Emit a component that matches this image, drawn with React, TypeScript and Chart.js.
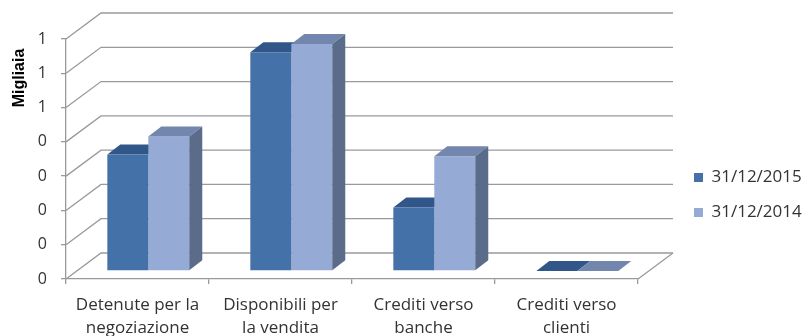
import React, { useEffect, useRef } from "react";
import { Chart, registerables } from "chart.js";

Chart.register(...registerables);

const categories: string[][] = [
  ["Detenute per la", "negoziazione"],
  ["Disponibili per", "la vendita"],
  ["Crediti verso", "banche"],
  ["Crediti verso", "clienti"],
];
const seriesNames = ["31/12/2015", "31/12/2014"];
const values2015 = [0.34, 0.638, 0.185, 0];
const values2014 = [0.392, 0.662, 0.335, 0];
const yTickLabels = ["0", "0", "0", "0", "0", "1", "1", "1"];
const yAxisTitle = "Migliaia";

const FRONT = ["#4571A9", "#95AAD5"];
const TOP = ["#30568A", "#7386AD"];
const SIDE = "#5B6B8A";
const GRID = "#9a9a9a";
const TEXT = "#333333";

// oblique projection offsets
const WALL = { dx: 35, dy: -26 };
const BAR_PLANE = { dx: 10.8, dy: -8 };
const BAR_DEPTH = { dx: 13, dy: -10 };

function drawTops(ctx: any, meta: any, idx: number) {
  meta.data.forEach((bar: any) => {
    const { x, y, base, width } = bar.getProps(["x", "y", "base", "width"], true);
    const l = x - width / 2;
    const r = x + width / 2;
    ctx.fillStyle = TOP[idx];
    ctx.beginPath();
    ctx.moveTo(l, y);
    ctx.lineTo(r, y);
    ctx.lineTo(r + BAR_DEPTH.dx, y + BAR_DEPTH.dy);
    ctx.lineTo(l + BAR_DEPTH.dx, y + BAR_DEPTH.dy);
    ctx.closePath();
    ctx.fill();
    if (idx === 1 && base - y > 0.5) {
      ctx.fillStyle = SIDE;
      ctx.beginPath();
      ctx.moveTo(r, y);
      ctx.lineTo(r + BAR_DEPTH.dx, y + BAR_DEPTH.dy);
      ctx.lineTo(r + BAR_DEPTH.dx, base + BAR_DEPTH.dy);
      ctx.lineTo(r, base);
      ctx.closePath();
      ctx.fill();
    }
  });
}

const threeD = {
  id: "threeD",
  afterLayout(chart: any) {
    const lg = chart.legend;
    if (lg) {
      const pad = 18;
      lg.left = 694 - pad;
      lg.top = 169 - pad;
      lg.right = 806;
      lg.bottom = 336;
      lg.width = lg.right - lg.left;
      lg.height = lg.bottom - lg.top;
    }
  },
  beforeDatasetsDraw(chart: any) {
    const { ctx, chartArea, scales } = chart;
    const { left, right } = chartArea;
    const y = scales.y;
    ctx.save();
    ctx.strokeStyle = GRID;
    ctx.lineWidth = 1.3;
    y.ticks.forEach((t: any) => {
      const py = y.getPixelForValue(t.value);
      ctx.beginPath();
      ctx.moveTo(left, py);
      ctx.lineTo(left + WALL.dx, py + WALL.dy);
      ctx.lineTo(right + WALL.dx, py + WALL.dy);
      ctx.stroke();
    });
    const y0 = y.getPixelForValue(0);
    ctx.beginPath();
    ctx.moveTo(right, y0);
    ctx.lineTo(right + WALL.dx, y0 + WALL.dy);
    ctx.stroke();
    ctx.restore();
    ctx.save();
    ctx.translate(BAR_PLANE.dx, BAR_PLANE.dy);
  },
  beforeDatasetDraw(chart: any, args: any) {
    // the 2014 series is drawn first; put the 2015 top faces underneath it
    if (args.index === 1) drawTops(chart.ctx, chart.getDatasetMeta(0), 0);
  },
  afterDatasetDraw(chart: any, args: any) {
    if (args.index === 1) drawTops(chart.ctx, args.meta, 1);
  },
  afterDatasetsDraw(chart: any) {
    chart.ctx.restore();
  },
  afterDraw(chart: any) {
    const { ctx, chartArea } = chart;
    ctx.save();
    ctx.translate(20, chartArea.top + 39);
    ctx.rotate(-Math.PI / 2);
    ctx.font = "bold 16px 'Liberation Sans'";
    ctx.fillStyle = "#000";
    ctx.textAlign = "center";
    ctx.textBaseline = "middle";
    ctx.fillText(yAxisTitle, 0, 0);
    ctx.restore();
  },
};

export default function App() {
  const ref = useRef<HTMLCanvasElement | null>(null);
  useEffect(() => {
    if (!ref.current) return;
    const chart = new Chart(ref.current, {
      type: "bar",
      data: {
        labels: categories,
        datasets: [
          { label: seriesNames[0], data: values2015, backgroundColor: FRONT[0], clip: false as any },
          { label: seriesNames[1], data: values2014, backgroundColor: FRONT[1], clip: false as any },
        ],
      },
      options: {
        responsive: false,
        maintainAspectRatio: false,
        animation: false,
        layout: { padding: { top: 39, right: 168, bottom: 0, left: 0 } },
        datasets: { bar: { categoryPercentage: 0.573, barPercentage: 1 } } as any,
        plugins: {
          tooltip: { enabled: false },
          legend: {
            position: "chartArea",
            align: "start",
            labels: {
              boxWidth: 9,
              boxHeight: 9,
              padding: 18,
              color: TEXT,
              font: { family: "Open Sans", size: 17 },
            },
          } as any,
        },
        scales: {
          x: {
            grid: { display: true, drawOnChartArea: false, drawTicks: true, tickLength: 5, color: GRID, lineWidth: 1.3 },
            border: { display: true, color: GRID, width: 1.3 },
            ticks: {
              color: TEXT,
              padding: 10,
              maxRotation: 0,
              autoSkip: false,
              font: { family: "Open Sans", size: 17, lineHeight: 1.35 },
            },
            afterFit: (s: any) => {
              s.height = 57;
            },
          },
          y: {
            min: 0,
            max: 0.7,
            ticks: {
              stepSize: 0.1,
              color: TEXT,
              padding: 14,
              font: { family: "Open Sans", size: 16 },
              callback: (_v: any, i: number) => yTickLabels[i],
            },
            grid: { display: true, drawOnChartArea: false, drawTicks: true, tickLength: 5, color: GRID, lineWidth: 1.3 },
            border: { display: true, color: GRID, width: 1.3 },
            afterFit: (s: any) => {
              s.width = 66;
            },
          },
        },
      },
      plugins: [threeD],
    });
    return () => chart.destroy();
  }, []);
  return (
    <div style={{ position: "absolute", left: 0, top: 0, width: 806, height: 336, background: "#fff" }}>
      <canvas ref={ref} width={806} height={336} />
    </div>
  );
}
